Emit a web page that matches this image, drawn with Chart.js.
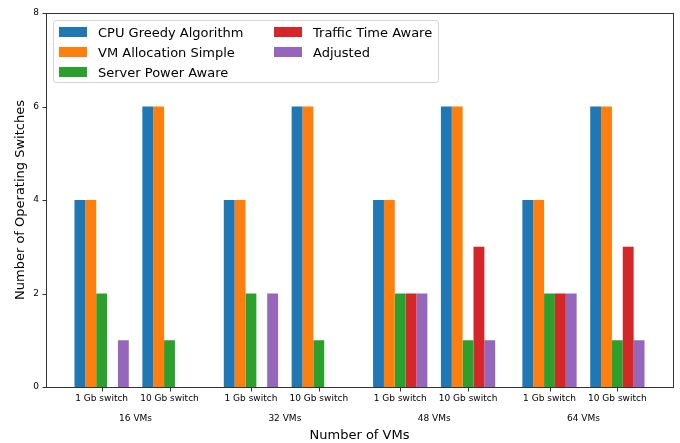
<!DOCTYPE html>
<html lang="en">
<head>
<meta charset="UTF-8">
<title>Number of Operating Switches</title>
<script src="https://cdn.jsdelivr.net/npm/chart.js"></script>
<style>
    body { margin: 0; background: #fff; }
    #wrap { position: relative; width: 680px; height: 443px; }
    #legend {
        position: absolute; left: 53px; top: 20px; width: 386px; height: 63px;
        border: 1px solid #d6d6d6; border-radius: 3px; background: rgba(255,255,255,0.8);
        display: grid; grid-auto-flow: column; grid-template-rows: repeat(3, 20px);
        grid-template-columns: 215px 160px; padding: 1px 0 0 5px; box-sizing: border-box;
        font-family: 'DejaVu Sans', sans-serif; font-size: 13px; color: #000;
    }
    #legend .item { display: flex; align-items: center; }
    #legend .sw { width: 28px; height: 10px; margin-right: 11px; }
</style>
</head>
<body>
<div id="wrap">
    <canvas id="switchChart" width="680" height="443"></canvas>
    <div id="legend"></div>
</div>
<script>
// x positions of the bar groups (two switch types per VM count)
const xPos = [0, 1, 2.2, 3.2, 4.4, 5.4, 6.6, 7.6];
const switchLabels = ['1 Gb switch', '10 Gb switch', '1 Gb switch', '10 Gb switch',
                      '1 Gb switch', '10 Gb switch', '1 Gb switch', '10 Gb switch'];
const vmPos = [0.5, 2.7, 4.9, 7.1];
const vmLabels = ['16 VMs', '32 VMs', '48 VMs', '64 VMs'];
const yTicks = [0, 2, 4, 6, 8];

const seriesNames = ['CPU Greedy Algorithm', 'VM Allocation Simple', 'Server Power Aware',
                     'Traffic Time Aware', 'Adjusted'];
const cpuGreedy    = [4, 6, 4, 6, 4, 6, 4, 6];
const vmAlloc      = [4, 6, 4, 6, 4, 6, 4, 6];
const serverPower  = [2, 1, 2, 1, 2, 1, 2, 1];
const trafficTime  = [0, 0, 0, 0, 2, 3, 2, 3];
const adjusted     = [1, 0, 2, 0, 2, 1, 2, 1];
const colors = ['#1f77b4', '#ff7f0e', '#2ca02c', '#d62728', '#9467bd'];

const allSeries = [cpuGreedy, vmAlloc, serverPower, trafficTime, adjusted];
const font = 'DejaVu Sans';
const axisColor = '#333';
const tickLen = 4;

// matplotlib style frame + outward tick marks
const frame = {
    id: 'frame',
    afterDraw(chart) {
        const a = chart.chartArea, ctx = chart.ctx;
        const xs = chart.scales.x, ys = chart.scales.y;
        ctx.save();
        ctx.strokeStyle = axisColor;
        ctx.lineWidth = 1;
        ctx.strokeRect(Math.round(a.left) + 0.5, Math.round(a.top) + 0.5,
                       Math.round(a.right - a.left), Math.round(a.bottom - a.top));
        ctx.beginPath();
        xPos.forEach(v => {
            const px = Math.round(xs.getPixelForValue(v)) + 0.5;
            ctx.moveTo(px, Math.round(a.bottom) + 0.5);
            ctx.lineTo(px, Math.round(a.bottom) + 0.5 + tickLen);
        });
        yTicks.forEach(v => {
            const py = Math.round(ys.getPixelForValue(v)) + 0.5;
            ctx.moveTo(Math.round(a.left) + 0.5, py);
            ctx.lineTo(Math.round(a.left) + 0.5 - tickLen, py);
        });
        ctx.stroke();
        ctx.restore();
    }
};

const chart = new Chart('switchChart', {
    type: 'bar',
    data: {
        datasets: allSeries.map((vals, k) => ({
            label: seriesNames[k],
            data: xPos.map((x, i) => ({ x: x, y: vals[i] })),
            backgroundColor: colors[k],
            borderWidth: 0,
            categoryPercentage: 0.8,
            barPercentage: 1.0
        }))
    },
    options: {
        responsive: false,
        animation: false,
        layout: { padding: { top: 13, right: 7, left: 0, bottom: 0 } },
        plugins: { legend: { display: false }, tooltip: { enabled: false } },
        scales: {
            x: {
                type: 'linear', min: -0.82, max: 8.42, offset: false,
                afterBuildTicks: s => { s.ticks = xPos.map(v => ({ value: v })); },
                afterFit: s => { s.height = 20; },
                ticks: {
                    callback: (v, i) => switchLabels[i],
                    font: { family: font, size: 9 }, color: '#000', padding: 6,
                    maxRotation: 0, autoSkip: false
                },
                grid: { display: false, drawTicks: false },
                border: { display: false }
            },
            x2: {
                type: 'linear', position: 'bottom', min: -0.82, max: 8.42, offset: false,
                afterBuildTicks: s => { s.ticks = vmPos.map(v => ({ value: v })); },
                afterFit: s => { s.height = 36; },
                ticks: {
                    callback: (v, i) => vmLabels[i],
                    font: { family: font, size: 9 }, color: '#000', padding: 6,
                    maxRotation: 0, autoSkip: false
                },
                grid: { display: false, drawTicks: false },
                border: { display: false },
                title: {
                    display: true, text: 'Number of VMs', color: '#000',
                    font: { family: font, size: 13 }, padding: { top: 0, bottom: 0 }
                }
            },
            y: {
                min: 0, max: 8,
                afterBuildTicks: s => { s.ticks = yTicks.map(v => ({ value: v })); },
                afterFit: s => { s.width = 46; },
                ticks: { font: { family: font, size: 9 }, color: '#000', padding: 7 },
                grid: { display: false, drawTicks: false },
                border: { display: false },
                title: {
                    display: true, text: 'Number of Operating Switches', color: '#000',
                    font: { family: font, size: 13 }, padding: { top: 13, bottom: 0 }
                }
            }
        }
    },
    plugins: [frame]
});

// legend laid out in two columns like the original
const legendEl = document.getElementById('legend');
chart.data.datasets.forEach(ds => {
    const item = document.createElement('div');
    item.className = 'item';
    item.innerHTML = '<span class="sw" style="background:' + ds.backgroundColor + '"></span>' + ds.label;
    legendEl.appendChild(item);
});
</script>
</body>
</html>
